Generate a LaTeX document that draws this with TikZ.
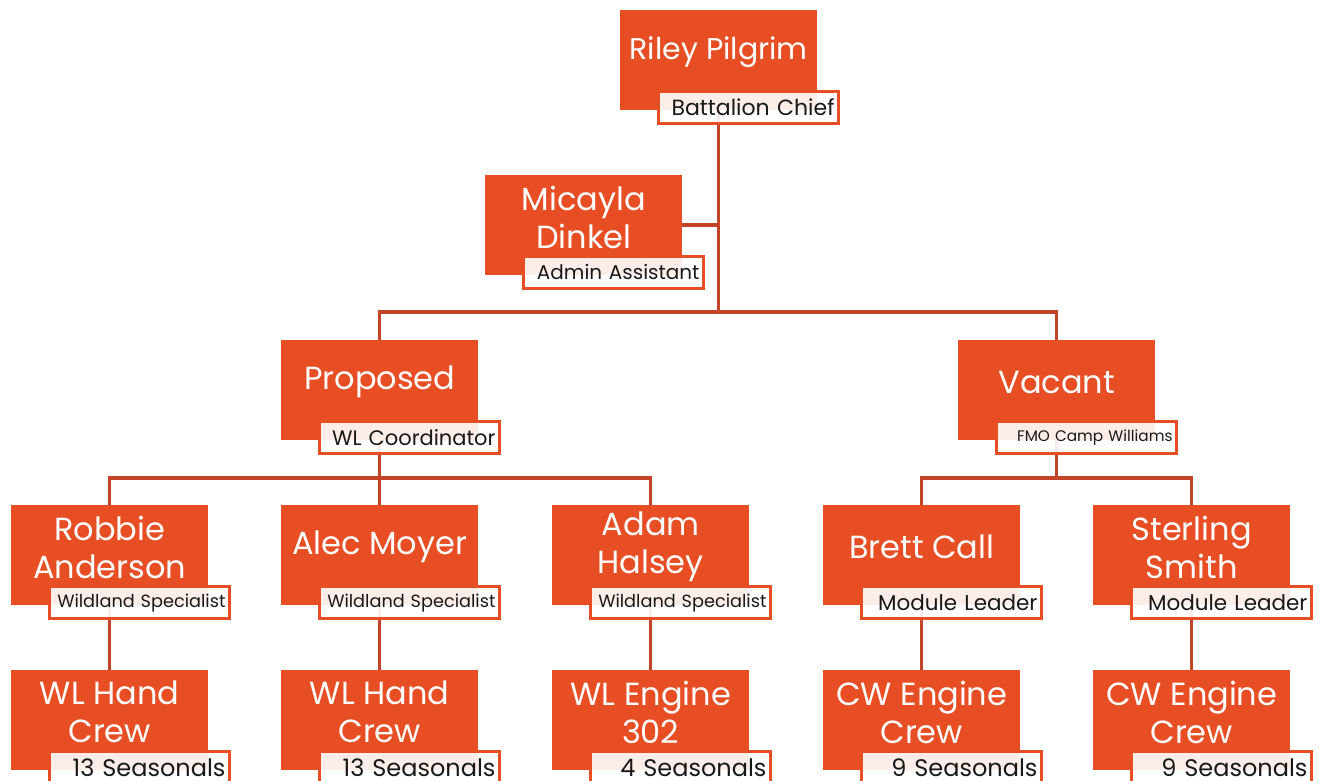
\documentclass[tikz,border=0pt]{standalone}
\usepackage{fontspec}
\setmainfont{Poppins}
\usetikzlibrary{backgrounds}
\definecolor{boxorange}{RGB}{232,78,36}
\definecolor{linkred}{RGB}{196,68,40}
\definecolor{labelink}{RGB}{25,25,25}

\tikzset{
  unitbox/.style={fill=boxorange, minimum width=197pt, minimum height=100pt,
    inner sep=0pt, anchor=north west},
  nametext/.style={text=white, font=\fontsize{32}{38}\selectfont, align=center, inner sep=0pt},
  rolebox/.style={draw=boxorange, line width=3pt, fill=white, fill opacity=0.9,
    text opacity=1, text=labelink, minimum width=180pt, minimum height=32pt,
    text width=172pt, inner xsep=4pt, inner ysep=0pt, align=right},
  link/.style={draw=linkred, line width=3.5pt}
}

% [name style] id, x, y, name, role, role font size
\newcommand{\orgunit}[7][]{%
  \node[unitbox] (#2) at (#3,#4) {};
  \node[nametext, #1] (#2-name) at ([yshift=-42pt]#2.north) {#5};
  \node[rolebox, font=\fontsize{#7}{#7}\selectfont] (#2-role)
    at ([xshift=128.5pt, yshift=2.5pt]#2.south west) {\raisebox{1.5pt}{#6}};
}

\begin{document}
\begin{tikzpicture}[x=1pt, y=-1pt]
  \useasboundingbox (0,0) rectangle (1320,781);
  \clip (0,0) rectangle (1320,781);

  \orgunit[font=\fontsize{30}{38}\selectfont]{riley}{620}{10}{Riley Pilgrim}{Battalion Chief}{22}
  \orgunit{micayla}{485}{175}{Micayla\\Dinkel}{Admin Assistant}{20}
  \orgunit{proposed}{281}{340}{Proposed}{WL Coordinator}{21}
  \orgunit{vacant}{958}{340}{Vacant}{FMO Camp Williams}{15.3}

  \orgunit{robbie}{11}{505}{Robbie\\Anderson}{Wildland Specialist}{17.7}
  \orgunit{alec}{281}{505}{Alec Moyer}{Wildland Specialist}{17.7}
  \orgunit{adam}{552}{505}{Adam\\Halsey}{Wildland Specialist}{17.7}
  \orgunit{brett}{823}{505}{Brett Call}{Module Leader}{21.5}
  \orgunit{sterling}{1093}{505}{Sterling\\Smith}{Module Leader}{21.5}

  \orgunit{crewa}{11}{670}{WL Hand\\Crew}{13 Seasonals}{24}
  \orgunit{crewb}{281}{670}{WL Hand\\Crew}{13 Seasonals}{24}
  \orgunit{engine}{552}{670}{WL Engine\\302}{4 Seasonals}{24}
  \orgunit{cwa}{823}{670}{CW Engine\\Crew}{9 Seasonals}{24}
  \orgunit{cwb}{1093}{670}{CW Engine\\Crew}{9 Seasonals}{24}

  \coordinate (bustop) at (0,312);
  \coordinate (busleft) at (0,478);

  \begin{scope}[on background layer]
    % chief down to the first split
    \draw[link] (riley.south) -- (riley.south |- bustop);
    \draw[link] (micayla.east) -- (micayla.east -| riley.south);
    \draw[link] (proposed.north) -- (proposed.north |- bustop)
      -- (vacant.north |- bustop) -- (vacant.north);
    % wildland branch
    \draw[link] (proposed.south) -- (proposed.south |- busleft);
    \draw[link] (robbie.north) -- (robbie.north |- busleft)
      -- (adam.north |- busleft) -- (adam.north);
    \draw[link] (alec.north) -- (alec.north |- busleft);
    % camp williams branch
    \draw[link] (vacant.south) -- (vacant.south |- busleft);
    \draw[link] (brett.north) -- (brett.north |- busleft)
      -- (sterling.north |- busleft) -- (sterling.north);
    % crews
    \draw[link] (robbie.south) -- (crewa.north);
    \draw[link] (alec.south) -- (crewb.north);
    \draw[link] (adam.south) -- (engine.north);
    \draw[link] (brett.south) -- (cwa.north);
    \draw[link] (sterling.south) -- (cwb.north);
  \end{scope}
\end{tikzpicture}
\end{document}
